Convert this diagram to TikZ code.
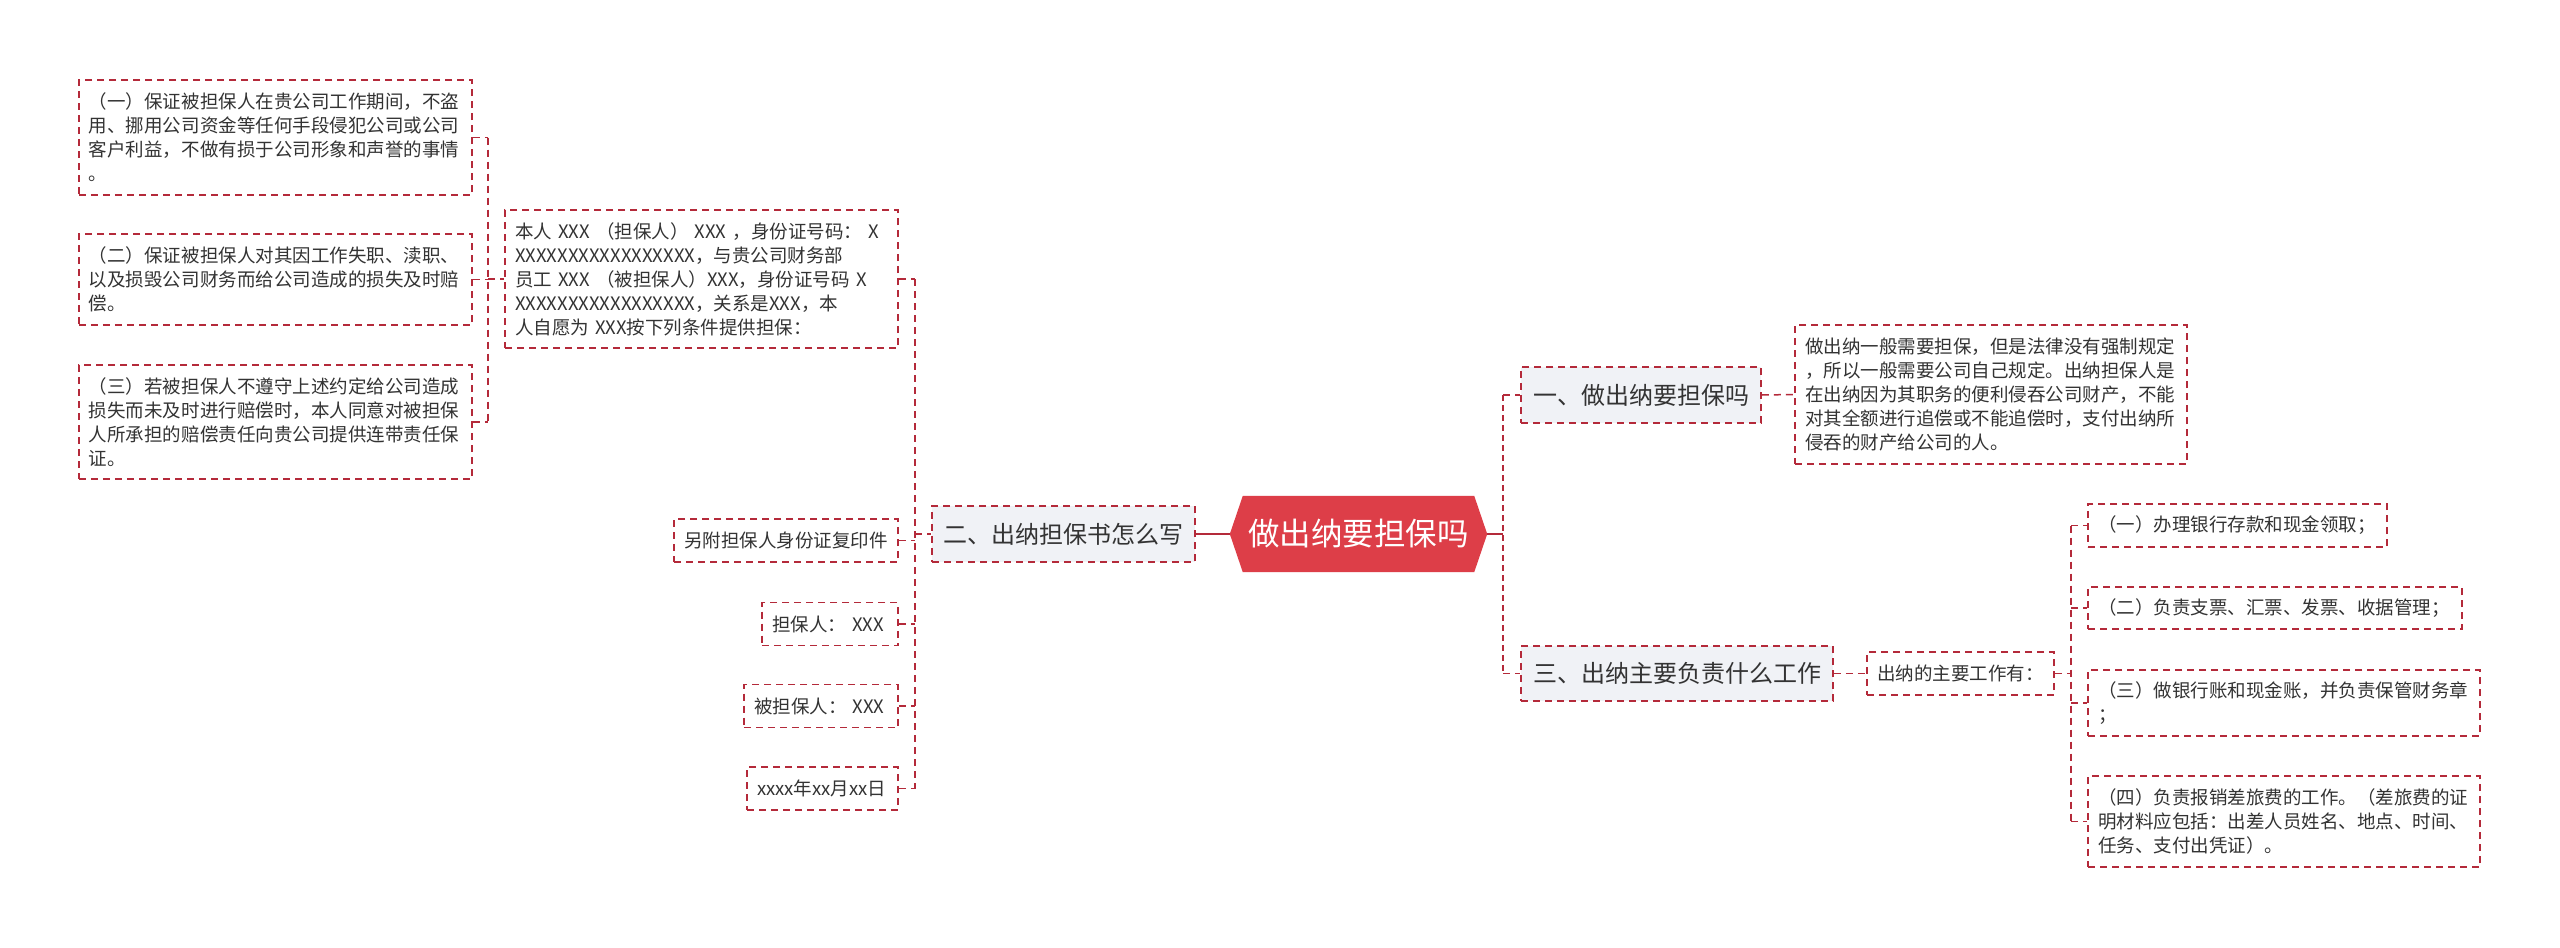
\documentclass[tikz,border=0pt]{standalone}
\usepackage{fontspec}
\setmainfont{Noto Sans CJK SC}
\usetikzlibrary{backgrounds}
\definecolor{lineRed}{RGB}{180,42,58}
\definecolor{rootRed}{RGB}{221,62,72}
\definecolor{branchFill}{RGB}{240,242,246}
\definecolor{textGray}{RGB}{51,51,51}
\newcommand\lffont{\fontsize{18.5bp}{24bp}\selectfont}
\newcommand\brfont{\fontsize{24bp}{28bp}\selectfont}
\newcommand\rtfont{\fontsize{31.5bp}{36bp}\selectfont}
\begin{document}
\begin{tikzpicture}[x=1bp,y=-1bp,
  leaf/.style={draw=lineRed, line width=1.5bp, dash pattern=on 7bp off 5bp,
    inner xsep=10bp, inner ysep=0pt, align=left, text=textGray, font=\lffont},
  branch/.style={draw=lineRed, fill=branchFill, line width=1.5bp, dash pattern=on 7bp off 5bp,
    inner sep=0pt, text=textGray, font=\brfont},
  conn/.style={draw=lineRed, line width=1.5bp, dash pattern=on 7bp off 5bp},
  mainline/.style={draw=lineRed, line width=2.5bp},
  maindash/.style={draw=lineRed, line width=2.5bp, dash pattern=on 6bp off 4bp}]
\useasboundingbox (0,0) rectangle (2560,947);

% root
\node[minimum width=257bp, minimum height=76bp, inner sep=0pt, text=white, font=\rtfont] (root) at (1358.5,534) {做出纳要担保吗};

% branches
\node[branch, minimum width=263bp, minimum height=56bp] (er) at (1063.5,534) {二、出纳担保书怎么写};
\node[branch, minimum width=240bp, minimum height=56bp] (yi) at (1641,395) {一、做出纳要担保吗};
\node[branch, minimum width=312bp, minimum height=55bp] (san) at (1677,673.5) {三、出纳主要负责什么工作};

% left leaves
\node[leaf, text width=373bp, minimum height=115bp] (a1) at (275.5,137.5) {（一）保证被担保人在贵公司工作期间，不盗\\用、挪用公司资金等任何手段侵犯公司或公司\\客户利益，不做有损于公司形象和声誉的事情\\。};
\node[leaf, text width=373bp, minimum height=91bp] (a2) at (275.5,279.5) {（二）保证被担保人对其因工作失职、渎职、\\以及损毁公司财务而给公司造成的损失及时赔\\偿。};
\node[leaf, text width=373bp, minimum height=114bp] (a3) at (275.5,422) {（三）若被担保人不遵守上述约定给公司造成\\损失而未及时进行赔偿时，本人同意对被担保\\人所承担的赔偿责任向贵公司提供连带责任保\\证。};
\node[leaf, text width=373bp, minimum height=138bp] (b1) at (701.5,279) {本人 XXX （担保人） XXX ，身份证号码： X\\XXXXXXXXXXXXXXXXX，与贵公司财务部\\员工 XXX （被担保人）XXX，身份证号码 X\\XXXXXXXXXXXXXXXXX，关系是XXX，本\\人自愿为 XXX按下列条件提供担保：};
\node[leaf, text width=204bp, minimum height=43bp] (c1) at (786,540.5) {另附担保人身份证复印件};
\node[leaf, text width=116bp, minimum height=43bp] (c2) at (830,624) {担保人： XXX};
\node[leaf, text width=134bp, minimum height=43bp] (c3) at (821,706) {被担保人： XXX};
\node[leaf, text width=131bp, minimum height=43bp] (c4) at (822.5,788.5) {xxxx年xx月xx日};

% right leaves
\node[leaf, text width=372bp, minimum height=139bp] (d) at (1991,394.5) {做出纳一般需要担保，但是法律没有强制规定\\，所以一般需要公司自己规定。出纳担保人是\\在出纳因为其职务的便利侵吞公司财产，不能\\对其全额进行追偿或不能追偿时，支付出纳所\\侵吞的财产给公司的人。};
\node[leaf, text width=167bp, minimum height=43bp] (e) at (1960.5,673.5) {出纳的主要工作有：};
\node[leaf, text width=279bp, minimum height=43bp] (f1) at (2237.5,525.5) {（一）办理银行存款和现金领取；};
\node[leaf, text width=354bp, minimum height=42bp] (f2) at (2275,608) {（二）负责支票、汇票、发票、收据管理；};
\node[leaf, text width=372bp, minimum height=66bp] (f3) at (2284,703) {（三）做银行账和现金账，并负责保管财务章\\；};
\node[leaf, text width=372bp, minimum height=91bp] (f4) at (2284,821.5) {（四）负责报销差旅费的工作。（差旅费的证\\明材料应包括：出差人员姓名、地点、时间、\\任务、支付出凭证）。};

% spine coordinates
\coordinate (s0) at (488,279);
\coordinate (s2) at (915,534);
\coordinate (s1) at (1503,534);
\coordinate (s3) at (2071,673.5);

% left bracket
\draw[conn] (s0 |- a1.east) -- (s0 |- a3.east);
\draw[conn] (a1.east) -- (s0 |- a1.east);
\draw[conn] (a2.east) -- (s0 |- a2.east);
\draw[conn] (a3.east) -- (s0 |- a3.east);
\draw[conn] (s0) -- (b1.west);

% er spine
\draw[conn] (s2 |- b1.east) -- (s2 |- c4.east);
\draw[conn] (b1.east) -- (s2 |- b1.east);
\draw[conn] (c1.east) -- (s2 |- c1.east);
\draw[conn] (c2.east) -- (s2 |- c2.east);
\draw[conn] (c3.east) -- (s2 |- c3.east);
\draw[conn] (c4.east) -- (s2 |- c4.east);
\draw[conn] (s2) -- (er.west);

% root connectors
\draw[mainline] (root.west) -- (er.east);
\draw[mainline] (root.east) -- (s1);
\draw[maindash] (s1 |- yi.west) -- (s1 |- san.west);
\draw[conn] (s1 |- yi.west) -- (yi.west);
\draw[conn] (s1 |- san.west) -- (san.west);

% right side
\draw[conn] (yi.east) -- (d.west);
\draw[conn] (san.east) -- (e.west);
\draw[conn] (e.east) -- (s3);
\draw[conn] (s3 |- f1.west) -- (s3 |- f4.west);
\draw[conn] (s3 |- f1.west) -- (f1.west);
\draw[conn] (s3 |- f2.west) -- (f2.west);
\draw[conn] (s3 |- f3.west) -- (f3.west);
\draw[conn] (s3 |- f4.west) -- (f4.west);

\begin{scope}[on background layer]
\fill[white] (0,0) rectangle (2560,947);
\fill[rootRed] ([xshift=13bp]root.north west) -- ([xshift=-13bp]root.north east) -- (root.east)
  -- ([xshift=-13bp]root.south east) -- ([xshift=13bp]root.south west) -- (root.west) -- cycle;
\end{scope}
\end{tikzpicture}
\end{document}
